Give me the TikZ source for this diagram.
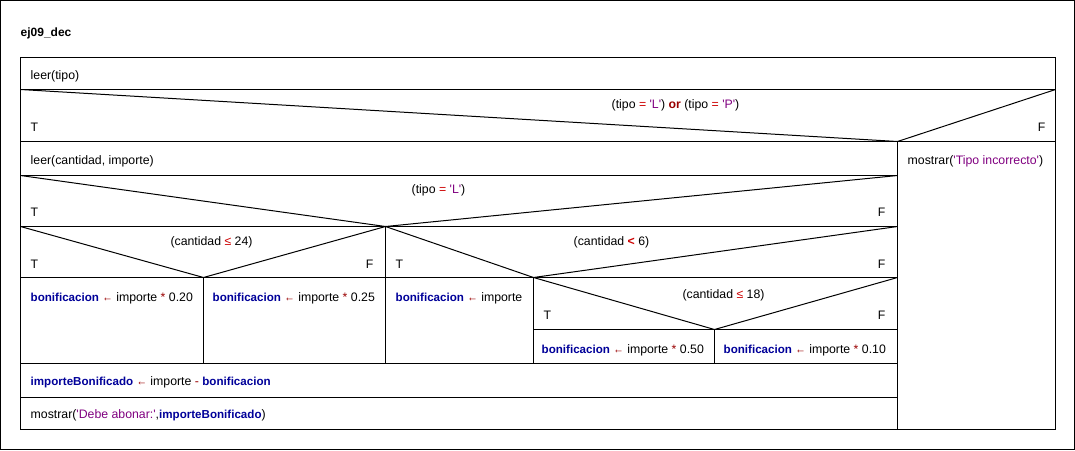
\documentclass[tikz,border=0pt]{standalone}
\usepackage{fontspec}
\usepackage{graphicx}
\setmainfont{Liberation Sans}[Ligatures=TeXOff]
\definecolor{kwc}{RGB}{0,0,153}
\definecolor{opc}{RGB}{153,0,0}
\definecolor{strc}{RGB}{128,0,128}
\definecolor{relc}{RGB}{204,0,0}
\newcommand{\mykw}[1]{{\fontsize{11.6}{14}\selectfont\bfseries\color{kwc}#1}}
\newcommand{\myop}[1]{\textcolor{opc}{#1}}
\newcommand{\myrel}[1]{\textcolor{relc}{#1}}
\newcommand{\mystr}[1]{\textcolor{strc}{#1}}
\newcommand{\myarr}{\textcolor{opc}{\scalebox{0.85}[1]{←}}}
\begin{document}
\begin{tikzpicture}[x=1pt,y=-1pt,
  txt/.style={inner sep=0pt, anchor=base west, font=\fontsize{12.3}{14}\selectfont},
  ctxt/.style={txt, anchor=base},
  rtxt/.style={txt, anchor=base east},
  ln/.style={line width=1pt, black}]
\useasboundingbox (0,0) rectangle (1075,450);
\begin{scope}[xshift=0.5pt,yshift=-0.5pt]
% outer frame
\draw[ln] (0,0) rectangle (1074,449);
% key coordinates
\coordinate (A1) at (20,57);  \coordinate (A2) at (1055,429);
\coordinate (L89) at (20,89);  \coordinate (R89) at (1055,89);
\coordinate (L141) at (20,141); \coordinate (R141) at (1055,141);
\coordinate (V1) at (897,141);
\coordinate (L175) at (20,175); \coordinate (M175) at (897,175);
\coordinate (L226) at (20,226); \coordinate (M226) at (897,226);
\coordinate (V2) at (385,226);
\coordinate (L277) at (20,277); \coordinate (M277) at (897,277);
\coordinate (V3) at (203,277);  \coordinate (V4) at (533,277);
\coordinate (L329) at (533,329); \coordinate (M329) at (897,329);
\coordinate (V5) at (714,329);
\coordinate (L363) at (20,363); \coordinate (M363) at (897,363);
\coordinate (B203) at (203,363); \coordinate (B385) at (385,363);
\coordinate (B533) at (533,363); \coordinate (B714) at (714,363);
\coordinate (L397) at (20,397); \coordinate (M397) at (897,397);
\coordinate (B897) at (897,429);
% main box and rows
\draw[ln] (A1) rectangle (A2);
\draw[ln] (L89) -- (R89);
\draw[ln] (L141) -- (R141);
\draw[ln] (L175) -- (M175);
\draw[ln] (L226) -- (M226);
\draw[ln] (L277) -- (M277);
\draw[ln] (L329) -- (M329);
\draw[ln] (L363) -- (M363);
\draw[ln] (L397) -- (M397);
% verticals
\draw[ln] (V1) -- (B897);
\draw[ln] (V2) -- (B385);
\draw[ln] (V3) -- (B203);
\draw[ln] (V4) -- (B533);
\draw[ln] (V5) -- (B714);
% diagonals
\draw[ln] (L89) -- (V1) -- (R89);
\draw[ln] (L175) -- (V2) -- (M175);
\draw[ln] (L226) -- (V3) -- (V2);
\draw[ln] (V2) -- (V4) -- (M226);
\draw[ln] (V4) -- (V5) -- (M277);
% texts
\node[txt, font=\fontsize{12}{14}\selectfont\bfseries] (title) at (20,36) {ej09\_dec};
\node[txt] (t1) at (30,79) {leer(tipo)};
\node[ctxt] (c1) at (675,108) {(tipo \myrel{=} \mystr{'L'}) \textcolor{opc}{\textbf{or}} (tipo \myrel{=} \mystr{'P'})};
\node[txt] (T1) at (30,131) {T};
\node[rtxt] (F1) at (1045,131) {F};
\node[txt] (t2) at (30,164) {leer(cantidad, importe)};
\node[txt] (t3) at (907,164) {mostrar(\mystr{'Tipo incorrecto'})};
\node[ctxt] (c2) at (438,193) {(tipo \myrel{=} \mystr{'L'})};
\node[txt] (T2) at (30,216) {T};
\node[rtxt] (F2) at (885,216) {F};
\node[ctxt] (c3) at (211,245) {(cantidad \myrel{≤} 24)};
\node[ctxt] (c4) at (611,245) {(cantidad \textcolor{relc}{\textbf{<}} 6)};
\node[txt] (T3) at (30,268) {T};
\node[rtxt] (F3) at (373,268) {F};
\node[txt] (T4) at (395,268) {T};
\node[rtxt] (F4) at (885,268) {F};
\node[txt] (b1) at (30,301) {\mykw{bonificacion} \myarr{} importe \myop{*} 0.20};
\node[txt] (b2) at (212,301) {\mykw{bonificacion} \myarr{} importe \myop{*} 0.25};
\node[txt] (b3) at (395,301) {\mykw{bonificacion} \myarr{} importe};
\node[ctxt] (c5) at (723,298) {(cantidad \myrel{≤} 18)};
\node[txt] (T5) at (543,319) {T};
\node[rtxt] (F5) at (885,319) {F};
\node[txt] (b4) at (541,353) {\mykw{bonificacion} \myarr{} importe \myop{*} 0.50};
\node[txt] (b5) at (723,353) {\mykw{bonificacion} \myarr{} importe \myop{*} 0.10};
\node[txt] (t4) at (30,385) {\mykw{importeBonificado} \myarr{} importe \myop{-} \mykw{bonificacion}};
\node[txt] (t5) at (30,418) {mostrar(\mystr{'Debe abonar:'},\mykw{importeBonificado})};
\end{scope}
\end{tikzpicture}
\end{document}
